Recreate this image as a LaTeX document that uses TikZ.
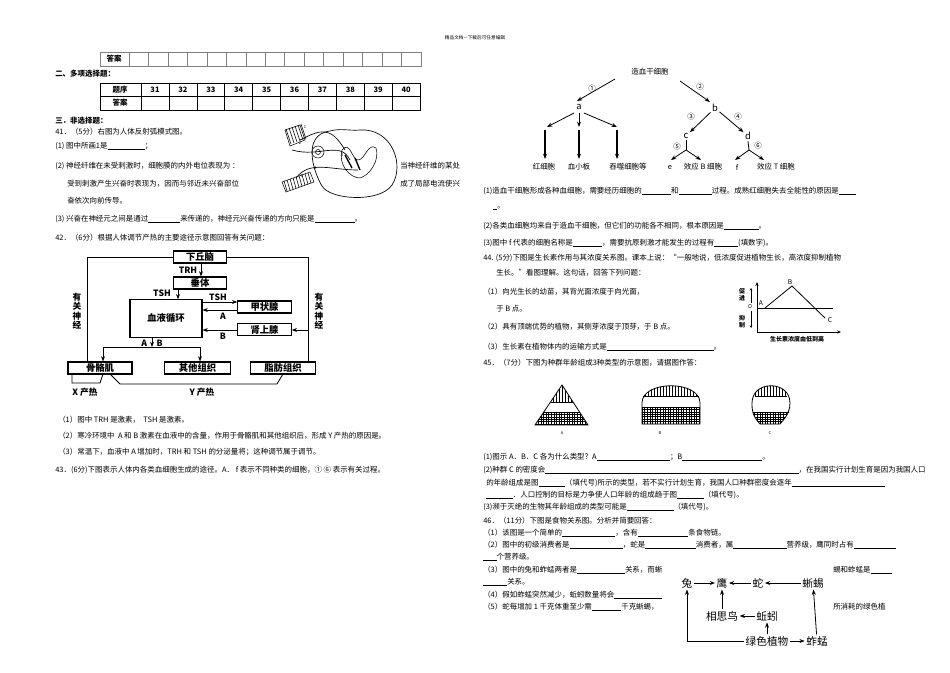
\documentclass[tikz,border=0pt]{standalone}
\usepackage{fontspec}
\setmainfont{Noto Sans CJK SC}
\usetikzlibrary{arrows.meta}
\newcommand{\bl}[1]{\rule[-1pt]{#1pt}{0.3pt}}
\begin{document}
\begin{tikzpicture}[x=0.75pt,y=-0.75pt,font=\fontsize{5.6}{6}\selectfont,
 tx/.style={anchor=west,inner sep=0},
 bx/.style={draw,line width=0.8pt,minimum height=9pt,inner sep=0,font=\fontsize{7}{8}\selectfont\bfseries},
 ar/.style={-{Stealth[length=4pt,width=3pt]},line width=0.6pt},
 fw/.style={inner sep=1pt,font=\fontsize{8}{9}\selectfont},
 ht/.style={line width=0.45pt}]
\useasboundingbox (0,0) rectangle (950,672);
\fill[white] (0,0) rectangle (950,672);
\node[inner sep=0,font=\fontsize{3.5}{4}\selectfont] (hd) at (475,38) {精品文档---下载后可任意编辑};
% table 1
\draw[gray] (100,52) rectangle (421,66);
\foreach \i in {0,...,14}{\draw[gray] (129+\i*19.47,52)--(129+\i*19.47,66);}
\node[inner sep=0,font=\fontsize{5.6}{6}\selectfont\bfseries] (ta) at (114,59) {答案};
\node[tx,font=\fontsize{5.6}{6}\selectfont\bfseries] (s2) at (55,74) {二、多项选择题：};
% table 2
\draw (100,83) rectangle (420,110); \draw (100,96.5)--(420,96.5);
\foreach \i in {0,...,9}{\draw (141+\i*27.9,83)--(141+\i*27.9,110);
 \pgfmathtruncatemacro\n{31+\i}
 \node[inner sep=0,font=\fontsize{5.6}{6}\selectfont\bfseries] (q\n) at (155+\i*27.9,90) {\n};}
\node[inner sep=0,font=\fontsize{5.6}{6}\selectfont\bfseries] (tq) at (120,90) {题序};
\node[inner sep=0,font=\fontsize{5.6}{6}\selectfont\bfseries] (tb) at (120,103) {答案};
\node[tx,font=\fontsize{5.6}{6}\selectfont\bfseries] (s3) at (55,121) {三．非选择题：};
% Q41
\node[tx] (l1) at (55,132) {41．（5分）右图为人体反射弧模式图。};
\node[tx] (l2) at (55,146) {(1) 图中所画1是\bl{28}；};
\node[tx] (l3) at (55,166) {(2) 神经纤维在未受刺激时，细胞膜的内外电位表现为 ：};
\node[tx] (l3b) at (400,166) {当神经纤维的某处};
\node[tx] (l4) at (67,184) {受到刺激产生兴奋时表现为，因而与邻近未兴奋部位};
\node[tx] (l4b) at (400,184) {成了局部电流使兴};
\node[tx] (l5) at (67,201) {奋依次向前传导。};
\node[tx] (l6) at (55,219) {(3) 兴奋在神经元之间是通过\bl{24}来传递的，神经元兴奋传递的方向只能是\bl{30}。};
\node[tx] (l7) at (55,238) {42．（6分）根据人体调节产热的主要途径示意图回答有关问题：};
% reflex arc sketch
\draw[line width=0.5pt] (330,131) .. controls (300,135) and (315,175) .. (322,186) .. controls (330,200) and (380,203) .. (392,185) .. controls (405,165) and (392,128) .. (360,130) .. controls (350,131) and (340,128) .. (330,131);
\draw[line width=0.4pt] (342,150) .. controls (350,140) and (352,160) .. (358,160) .. controls (365,160) and (368,142) .. (376,148) .. controls (380,160) and (370,175) .. (360,178) .. controls (350,178) and (338,165) .. (342,150);
\draw[line width=1pt] (345,155)--(352,168) (355,158)--(360,170);
\draw[line width=0.5pt] (300,140) .. controls (320,130) and (330,125) .. (345,150);
\draw[line width=0.5pt] (292,150) .. controls (320,158) and (340,140) .. (350,160);
\draw[line width=0.5pt] (296,178) .. controls (310,160) and (330,170) .. (358,170);
\draw (318,152) circle (6); \draw (318,152) circle (2.5);
\foreach \k in {0,...,5}{\draw[line width=0.4pt] (286+\k*3,129-\k) -- (291+\k*3,144-\k);}
\draw (285,130) -- (300,125) -- (305,140) -- (290,146) -- cycle;
\draw (282,182) -- (310,172) -- (314,182) -- (286,192) -- cycle;
\foreach \k in {0,...,8}{\draw[line width=0.4pt] (284+\k*3,181-\k) -- (287+\k*3,191-\k);}
\node[inner sep=0,font=\fontsize{3}{3}\selectfont] (n1) at (305,127) {1};
\node[inner sep=0,font=\fontsize{3}{3}\selectfont] (n2) at (300,143) {2};
\node[inner sep=0,font=\fontsize{3}{3}\selectfont] (n3) at (342,155) {3};
\node[inner sep=0,font=\fontsize{3}{3}\selectfont] (n4) at (315,168) {4};
\node[inner sep=0,font=\fontsize{3}{3}\selectfont] (n5) at (302,176) {5};
% Q42 diagram
\node[bx,minimum width=40pt] (xq) at (200,257) {下丘脑};
\node[bx,minimum width=40pt] (ct) at (200,283) {垂体};
\node[bx,minimum width=54pt,minimum height=28pt] (xy) at (166,318.5) {血液循环};
\node[bx,minimum width=40pt] (jz) at (264.5,307) {甲状腺};
\node[bx,minimum width=40pt] (sx) at (264.5,329.5) {肾上腺};
\node[bx,minimum width=48pt] (gg) at (100,368) {骨骼肌};
\node[bx,minimum width=49pt] (qt) at (197.5,368) {其他组织};
\node[bx,minimum width=49pt] (zf) at (283,368) {脂肪组织};
\draw[ar] (xq.south-|201,0) -- (ct.north-|201,0);
\node[inner sep=0,font=\fontsize{6.5}{7}\selectfont\bfseries] (trh) at (188,270) {TRH};
\draw[ar] (ct.south-|178,0) -- (xy.north-|178,0);
\node[inner sep=0,font=\fontsize{6.5}{7}\selectfont\bfseries] (tsh1) at (162,293) {TSH};
\coordinate (ts0) at (203,302);
\draw[ar] (ts0) -- (jz.west|-ts0);
\node[inner sep=0,font=\fontsize{6.5}{7}\selectfont\bfseries] (tsh2) at (218,297) {TSH};
\draw[ar] (jz.west|-0,310) -- (xy.east|-0,310);
\node[inner sep=0,font=\fontsize{6.5}{7}\selectfont\bfseries] (la) at (223,316) {A};
\draw[ar] (sx.west|-0,330) -- (xy.east|-0,330);
\node[inner sep=0,font=\fontsize{6.5}{7}\selectfont\bfseries] (lb) at (223,336) {B};
\draw[line width=0.6pt] (xq.east) -| (308,362);
\draw[line width=0.6pt] (xq.west) -| (87,362);
\draw[ar] (308,330) -- (sx.east|-0,330);
\draw[ar] (xy.south-|152,0) -- (152,347);
\node[inner sep=0,font=\fontsize{6.5}{7}\selectfont\bfseries] (lab) at (152,343) {A\hspace{7pt}B};
\draw[line width=0.6pt] (103,347) -- (200,347);
\draw[ar] (103,347) -- (gg.north-|103,0);
\draw[ar] (200,347) -- (qt.north-|200,0);
\draw[line width=0.6pt] (72,374) -- (72,383) -- (100,383) -- (103,374);
\draw[line width=0.6pt] (110,374) -- (120,384) -- (277,384) -- (283,374);
\node[inner sep=0,font=\fontsize{6.5}{7}\selectfont\bfseries] (xc) at (85,392) {X 产热};
\node[inner sep=0,font=\fontsize{6.5}{7}\selectfont\bfseries] (yc) at (202,392) {Y 产热};
\node[inner sep=0,align=center,font=\fontsize{6.5}{7}\selectfont\bfseries] (gs1) at (77,311) {有\\关\\神\\经};
\node[inner sep=0,align=center,font=\fontsize{6.5}{7}\selectfont\bfseries] (gs2) at (319,311) {有\\关\\神\\经};
\node[tx] (m1) at (58,420) {（1）图中 TRH 是激素，\ \ TSH 是激素。};
\node[tx] (m2) at (58,436) {（2）寒冷环境中\ \ A 和 B 激素在血液中的含量，作用于骨骼肌和其他组织后，形成 Y 产热的原因是。};
\node[tx] (m3) at (58,452) {（3）常温下，血液中 A 增加时，TRH 和 TSH 的分泌量将；这种调节属于调节。};
\node[tx] (m4) at (55,470) {43．(6分)下图表示人体内各类血细胞生成的途径。A．~f 表示不同种类的细胞，①~⑥ 表示有关过程。};
% Q43 tree
\node[inner sep=1pt] (zx) at (650,72) {造血干细胞};
\node[inner sep=1pt,font=\fontsize{7}{8}\selectfont] (a) at (579,107) {a};
\node[inner sep=1pt,font=\fontsize{7}{8}\selectfont] (b) at (715,108) {b};
\node[inner sep=1pt,font=\fontsize{7}{8}\selectfont] (c) at (686,136) {c};
\node[inner sep=1pt,font=\fontsize{7}{8}\selectfont] (d) at (748,136) {d};
\draw[ar] (615,79) -- (577,101);
\draw[ar] (680,81) -- (710,102);
\node[inner sep=0] (c1) at (592,89) {①};
\node[inner sep=0] (c2) at (700,87) {②};
\draw[ar] (574,113) -- (547,127);
\draw[ar] (579,113) -- (579,127);
\draw[ar] (584,113) -- (617,127);
\node[inner sep=1pt] (hx) at (544,167) {红细胞};
\node[inner sep=1pt] (xx) at (579,167) {血小板};
\node[inner sep=1pt] (ts) at (628,167) {吞噬细胞等};
\draw[ar,line width=0.8pt] (545,130) -- (545,159);
\draw[ar,line width=0.8pt] (579,130) -- (579,159);
\draw[ar,line width=0.8pt] (617,130) -- (617,159);
\draw[ar] (b) -- (c);
\draw[ar] (b) -- (d);
\node[inner sep=0] (c3) at (691,117) {③};
\node[inner sep=0] (c4) at (738,117) {④};
\draw[line width=0.6pt] (c.south) -- (686,150);
\draw[ar] (686,150) -- (671,160); \draw[ar] (686,150) -- (701,160);
\draw[line width=0.6pt] (d.south) -- (749,150);
\draw[ar] (749,150) -- (735,160); \draw[ar] (749,150) -- (764,160);
\node[inner sep=0] (c5) at (677,147) {⑤};
\node[inner sep=0] (c6) at (758,146) {⑥};
\node[inner sep=1pt] (e) at (670,167) {e};
\node[inner sep=1pt] (xb) at (703,167) {效应 B 细胞};
\node[inner sep=1pt] (f) at (737,167) {f};
\node[inner sep=1pt] (xt) at (776,167) {效应 T 细胞};
\node[tx] (r1) at (483,191) {(1)造血干细胞形成各种血细胞，需要经历细胞的\bl{22}和\bl{25}过程。成熟红细胞失去全能性的原因是\bl{13}};
\node[tx] (r1b) at (493,208) {\bl{3}。};
\node[tx] (r2) at (483,226) {(2)各类血细胞均来自于造血干细胞，但它们的功能各不相同，根本原因是\bl{26}。};
\node[tx] (r3) at (483,243) {(3)图中 f 代表的细胞名称是\bl{22}，需要抗原刺激才能发生的过程有\bl{18}(填数字)。};
% Q44
\node[tx] (p1) at (483,258) {44. (5分)下图是生长素作用与其浓度关系图。课本上说：“一般地说，低浓度促进植物生长，高浓度抑制植物};
\node[tx] (p2) at (496,273) {生长。”看图理解。这句话，回答下列问题：};
\node[tx] (p3) at (483,292) {（1）向光生长的幼苗，其背光面浓度于向光面，};
\node[tx] (p4) at (496,309) {于 B 点。};
\node[tx] (p5) at (483,327) {（2）具有顶端优势的植物，其侧芽浓度于顶芽，于 B 点。};
\node[tx] (p6) at (483,347) {（3）生长素在植物体内的运输方式是\bl{80}。};
\node[tx] (p7) at (483,363) {45．（7分）下图为种群年龄组成3种类型的示意图，请据图作答：};
% graph
\draw[-{Stealth[length=3pt,width=2.5pt]},line width=0.6pt] (757,332) -- (757,282);
\draw[-{Stealth[length=3pt,width=2.5pt]},line width=0.6pt] (757,332) -- (841,332);
\draw[line width=0.5pt] (757,308) -- (833,308);
\draw[line width=0.6pt] (765,308) -- (792,286) -- (825,318);
\node[inner sep=0,font=\fontsize{5}{5}\selectfont] (ga) at (761,303) {A};
\node[inner sep=0,font=\fontsize{5}{5}\selectfont] (gb) at (790,282) {B};
\node[inner sep=0,font=\fontsize{5}{5}\selectfont] (gc) at (830,320) {C};
\node[inner sep=0,align=center,font=\fontsize{4.5}{5}\selectfont\bfseries] (cj) at (742,295) {促\\进};
\node[inner sep=0,align=center,font=\fontsize{4.5}{5}\selectfont\bfseries] (yz) at (742,322) {抑\\制};
\node[inner sep=0,font=\fontsize{4}{4}\selectfont] (go) at (750,307) {O};
\draw[-{Stealth[length=2pt,width=2pt]},line width=0.4pt] (751,303) -- (751,288);
\draw[-{Stealth[length=2pt,width=2pt]},line width=0.4pt] (751,311) -- (751,328);
\node[inner sep=0,font=\fontsize{4.5}{5}\selectfont\bfseries] (gx) at (797,339) {生长素浓度由低到高};
% pyramids
\begin{scope}
\clip (562,385) -- (588,425) -- (535,425) -- cycle;
\foreach \k in {0,...,7}{\draw[ht] (553+\k*3,385) -- (553+\k*3,402);}
\foreach \k in {0,...,20}{\draw[ht] (533+\k*2.6,412) -- (533+\k*2.6,425);}
\foreach \k in {0,...,5}{\draw[ht] (530,412+\k*2.4) -- (595,412+\k*2.4);}
\end{scope}
\draw[line width=0.6pt] (562,385) -- (588,425) -- (535,425) -- cycle;
\draw[line width=0.5pt] (551,402) -- (573,402) (543,412) -- (580,412);
\begin{scope}
\clip (642,424) -- (642,403) .. controls (642,380) and (700,380) .. (700,403) -- (700,424) -- cycle;
\foreach \k in {0,...,19}{\draw[ht] (642+\k*3,380) -- (642+\k*3,396);}
\foreach \k in {0,...,23}{\draw[ht] (642+\k*2.6,407) -- (642+\k*2.6,424);}
\foreach \k in {0,...,7}{\draw[ht] (640,407+\k*2.4) -- (702,407+\k*2.4);}
\end{scope}
\draw[line width=0.6pt] (642,424) -- (642,403) .. controls (642,380) and (700,380) .. (700,403) -- (700,424) -- cycle;
\draw[line width=0.5pt] (643,396) -- (699,396) (642,407) -- (700,407);
\begin{scope}
\clip (760,424) .. controls (752,415) and (752,410) .. (752,403) .. controls (752,380) and (790,380) .. (790,403) .. controls (790,410) and (788,415) .. (780,424) -- cycle;
\foreach \k in {0,...,13}{\draw[ht] (752+\k*3,380) -- (752+\k*3,396);}
\foreach \k in {0,...,15}{\draw[ht] (752+\k*2.6,412) -- (752+\k*2.6,424);}
\foreach \k in {0,...,5}{\draw[ht] (750,412+\k*2.4) -- (792,412+\k*2.4);}
\end{scope}
\draw[line width=0.6pt] (760,424) .. controls (752,415) and (752,410) .. (752,403) .. controls (752,380) and (790,380) .. (790,403) .. controls (790,410) and (788,415) .. (780,424) -- cycle;
\draw[line width=0.5pt] (755,396) -- (787,396) (753,412) -- (789,412);
\node[inner sep=0,font=\fontsize{3}{3}\selectfont] (pa) at (562,433) {A};
\node[inner sep=0,font=\fontsize{3}{3}\selectfont] (pb) at (660,433) {B};
\node[inner sep=0,font=\fontsize{3}{3}\selectfont] (pc) at (770,433) {C};
% Q45 answers
\node[tx] (u1) at (483,457) {(1)图示 A．B．C 各为什么类型？A\bl{55}；B\bl{60}。};
\node[tx] (u2) at (483,470) {(2)种群 C 的密度会\bl{190}，在我国实行计划生育是因为我国人口};
\node[tx] (u3) at (486,483) {的年龄组成是图\bl{20}（填代号)所示的类型，若不实行计划生育，我国人口种群密度会逐年\bl{70}};
\node[tx] (u4) at (486,495) {\bl{20}．人口控制的目标是力争使人口年龄的组成趋于图\bl{20}（填代号)。};
\node[tx] (u5) at (483,507) {(3)濒于灭绝的生物其年龄组成的类型可能是\bl{35}（填代号)。};
\node[tx] (u6) at (483,521) {46．（11分）下图是食物关系图。分析并简要回答：};
\node[tx] (u7) at (483,533) {（1）该图是一个简单的\bl{40}，含有\bl{38}条食物链。};
\node[tx] (u8) at (483,545) {（2）图中的初级消费者是\bl{40}，蛇是\bl{38}消费者，属\bl{40}营养级，鹰同时占有\bl{32}};
\node[tx] (u9) at (483,557) {\bl{10}个营养级。};
\node[tx] (u10) at (483,570) {（3）图中的兔和蚱蜢两者是\bl{36}关系，而蜥};
\node[tx] (u10b) at (833,570) {蜴和蚱蜢是\bl{16}};
\node[tx] (u11) at (483,582) {\bl{18}关系。};
\node[tx] (u12) at (483,595) {（4）假如蚱蜢突然减少，蚯蚓数量将会\bl{36}};
\node[tx] (u13) at (483,607) {（5）蛇每增加 1 千克体重至少需\bl{22}千克蜥蜴，};
\node[tx] (u13b) at (833,607) {所消耗的绿色植};
% food web
\node[fw] (tu) at (687,583) {兔};
\node[fw] (ying) at (722,583) {鹰};
\node[fw] (she) at (758,583) {蛇};
\node[fw] (xy2) at (813,583) {蜥蜴};
\node[fw] (xs) at (722,616) {相思鸟};
\node[fw] (qy) at (767,616) {蚯蚓};
\node[fw] (lz) at (767,641) {绿色植物};
\node[fw] (zm) at (817,641) {蚱蜢};
\draw[ar] (tu) -- (ying);
\draw[ar] (she) -- (ying);
\draw[ar] (xy2) -- (she);
\draw[ar] (xs) -- (ying);
\draw[ar] (qy) -- (xs);
\draw[ar] (lz) -- (qy);
\draw[ar] (lz.west) -| (tu.south);
\draw[ar] (lz) -- (zm);
\draw[ar] (zm) -- (xy2);
\end{tikzpicture}
\end{document}
